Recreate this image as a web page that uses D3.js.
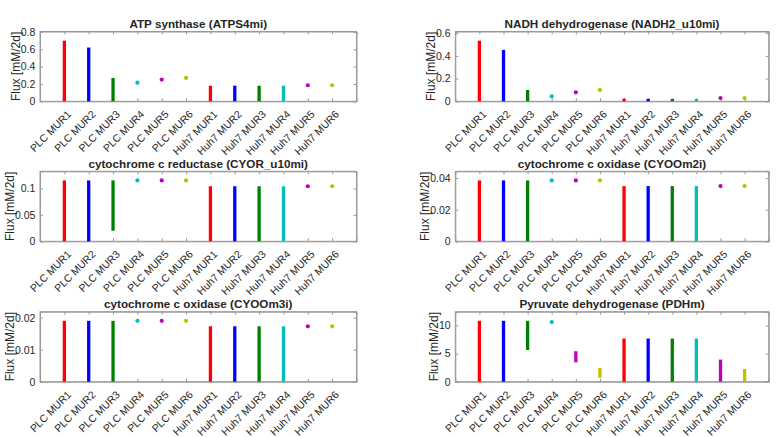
<!DOCTYPE html>
<html><head><meta charset="utf-8">
<script src="https://cdn.jsdelivr.net/npm/d3@7"></script>
<style>
body{margin:0;background:#fff}
text{font-family:"Liberation Sans",Arial,Helvetica,sans-serif;fill:#262626}
</style>
</head><body><svg id="c" width="780" height="437"></svg>
<script>
const categories = ["PLC MUR1","PLC MUR2","PLC MUR3","PLC MUR4","PLC MUR5","PLC MUR6",
  "Huh7 MUR1","Huh7 MUR2","Huh7 MUR3","Huh7 MUR4","Huh7 MUR5","Huh7 MUR6"];
const colors = ["#ff0000","#0000ff","#008000","#00bfbf","#bf00bf","#bfbf00"];
const titles = ["ATP synthase (ATPS4mi)","NADH dehydrogenase (NADH2_u10mi)",
  "cytochrome c reductase (CYOR_u10mi)","cytochrome c oxidase (CYOOm2i)",
  "cytochrome c oxidase (CYOOm3i)","Pyruvate dehydrogenase (PDHm)"];
const yLabel = "Flux [mM/2d]";

const atpMin  = [0,0,0,0.215,0.25,0.27,0,0,0,0,0.185,0.185];
const atpMax  = [0.70,0.62,0.27,0.215,0.25,0.27,0.18,0.18,0.18,0.18,0.185,0.185];
const nadhMin = [0,0,0,0.044,0.079,0.1,0,0,0,0,0.029,0.029];
const nadhMax = [0.535,0.453,0.1,0.044,0.079,0.1,0.024,0.022,0.021,0.02,0.029,0.029];
const cyorMin = [0,0,0.02,0.115,0.115,0.115,0,0,0,0,0.104,0.104];
const cyorMax = [0.115,0.115,0.115,0.115,0.115,0.115,0.104,0.104,0.104,0.104,0.104,0.104];
const cyoo2Min = [0,0,0,0.0385,0.0385,0.0385,0,0,0,0,0.0349,0.0349];
const cyoo2Max = [0.0385,0.0385,0.0385,0.0385,0.0385,0.0385,0.0349,0.0349,0.0349,0.0349,0.0349,0.0349];
const cyoo3Min = [0,0,0,0.019,0.019,0.019,0,0,0,0,0.0173,0.0173];
const cyoo3Max = [0.019,0.019,0.019,0.019,0.019,0.019,0.0173,0.0173,0.0173,0.0173,0.0173,0.0173];
const pdhMin = [0,0,5.65,10.6,3.45,0.71,0,0,0,0,0,0];
const pdhMax = [10.83,10.83,10.83,10.6,5.42,2.44,7.68,7.68,7.68,7.68,3.93,2.26];

const tickSets = [[0,0.2,0.4,0.6,0.8],[0,0.2,0.4,0.6],[0,0.05,0.1],[0,0.02,0.04],[0,0.01,0.02],[0,5,10]];

const panels = [
  {lo: atpMin, hi: atpMax}, {lo: nadhMin, hi: nadhMax},
  {lo: cyorMin, hi: cyorMax}, {lo: cyoo2Min, hi: cyoo2Max},
  {lo: cyoo3Min, hi: cyoo3Max}, {lo: pdhMin, hi: pdhMax}
];

const colX = [[40, 356.5], [455.3, 768.7]];
const rowY = [[31.5, 101.3], [171.3, 241.3], [311.7, 381.7]];
const axisColor = "#999";

const svg = d3.select("#c");

panels.forEach((p, k) => {
  const [x0, x1] = colX[k % 2];
  const [y0, y1] = rowY[Math.floor(k / 2)];
  const ymax = d3.max(p.hi) * 1.15;
  const x = d3.scaleLinear().domain([0, 13]).range([x0, x1]);
  const y = d3.scaleLinear().domain([0, ymax]).range([y1, y0]);
  const g = svg.append("g");
  const idx = d3.range(1, 13);

  const bottom = g.append("g").attr("transform", `translate(0,${y1})`)
    .call(d3.axisBottom(x).tickValues(idx).tickSize(-3).tickFormat(""));
  const top = g.append("g").attr("transform", `translate(0,${y0})`)
    .call(d3.axisTop(x).tickValues(idx).tickSize(-3).tickFormat(""));
  const left = g.append("g").attr("transform", `translate(${x0},0)`)
    .call(d3.axisLeft(y).tickValues(tickSets[k]).tickSize(-3).tickPadding(4.7)
      .tickFormat(d3.format("~g")));
  const right = g.append("g").attr("transform", `translate(${x1},0)`)
    .call(d3.axisRight(y).tickValues(tickSets[k]).tickSize(-3).tickFormat(""));
  [bottom, top, left, right].forEach(a => {
    a.select(".domain").attr("stroke", axisColor);
    a.selectAll(".tick line").attr("stroke", axisColor);
  });
  left.selectAll(".tick text").attr("font-size", 10.5).attr("fill", "#262626")
    .style("font-family", '"Liberation Sans",Arial,sans-serif');
  g.append("rect").attr("x", x0).attr("y", y0).attr("width", x1 - x0).attr("height", y1 - y0)
    .attr("fill", "none").attr("stroke", axisColor);

  // x tick labels
  g.append("g").selectAll("text").data(categories).join("text")
    .attr("transform", (d, i) => `translate(${x(i + 1) + 5},${y1 + 11}) rotate(-45)`)
    .attr("text-anchor", "end").attr("dy", "0.35em").attr("font-size", 10.5)
    .text(d => d);

  // title
  g.append("text").attr("x", (x0 + x1) / 2).attr("y", y0 - 3.5)
    .attr("text-anchor", "middle").attr("font-size", 11.7).attr("font-weight", "bold")
    .text(titles[k]);

  // y label
  const bb = left.node().getBBox();
  g.append("text").attr("transform", `translate(${x0 + bb.x - 1},${(y0 + y1) / 2}) rotate(-90)`)
    .attr("text-anchor", "middle").attr("font-size", 12).text(yLabel);

  // ranges
  const rows = idx.map((c, i) => ({c, lo: p.lo[i], hi: p.hi[i], col: colors[i % 6]}));
  g.append("g").selectAll("line").data(rows.filter(r => r.hi > r.lo)).join("line")
    .attr("x1", r => x(r.c)).attr("x2", r => x(r.c))
    .attr("y1", r => y(r.lo)).attr("y2", r => y(r.hi))
    .attr("stroke", r => r.col).attr("stroke-width", 3.3);
  g.append("g").selectAll("circle").data(rows.filter(r => r.hi <= r.lo)).join("circle")
    .attr("cx", r => x(r.c)).attr("cy", r => y(r.hi)).attr("r", 2.1)
    .attr("fill", r => r.col);
});
</script></body></html>
